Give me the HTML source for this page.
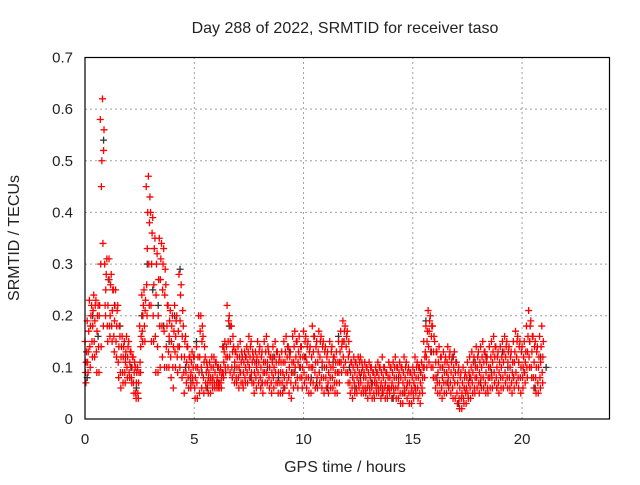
<!DOCTYPE html>
<html><head><meta charset="utf-8"><style>
body{margin:0;background:#fff;}
svg text{font-family:"Liberation Sans",sans-serif;font-size:15px;fill:#222;}
svg text.t{font-size:16px;}
</style></head><body>
<svg id="chart" width="640" height="480" xmlns="http://www.w3.org/2000/svg">
<rect width="640" height="480" fill="#fff"/>
<g id="grid"></g>
<g id="black"></g>
<g id="red"></g>
<rect x="85" y="57.5" width="524.5" height="361.5" fill="none" stroke="#000" stroke-width="1.2"/>
<g id="ticks"></g>
<text class="t" x="345" y="33" text-anchor="middle">Day 288 of 2022, SRMTID for receiver taso</text>
<text class="t" x="345" y="472" text-anchor="middle">GPS time / hours</text>
<text class="t" x="19" y="238" text-anchor="middle" transform="rotate(-90 19 238)">SRMTID / TECUs</text>
</svg>
<script>
const xTicks=[0,5,10,15,20];
const yTicks=[0,0.1,0.2,0.3,0.4,0.5,0.6,0.7];
const yTickLabels=["0","0.1","0.2","0.3","0.4","0.5","0.6","0.7"];
const redStep=0.1;
const redHi=[.15,.19,.23,.22,.24,.23,.22,.58,.62,.30,
.31,.31,.28,.25,.25,.22,.16,.16,.15,.16,
.15,.13,.12,.10,.10,.18,.24,.25,.45,.47,
.40,.39,.35,.32,.35,.34,.33,.26,.22,.21,
.20,.22,.20,.28,.26,.18,.16,.14,.12,.13,
.12,.14,.20,.20,.16,.12,.10,.11,.12,.12,
.11,.10,.10,.14,.15,.22,.20,.18,.14,.13,
.14,.15,.12,.13,.14,.16,.15,.12,.13,.15,
.14,.13,.15,.16,.13,.12,.14,.15,.13,.12,
.13,.15,.16,.14,.13,.16,.17,.15,.16,.14,
.17,.16,.15,.14,.18,.16,.15,.17,.16,.15,
.14,.13,.15,.14,.12,.13,.15,.17,.19,.18,
.17,.13,.11,.12,.11,.12,.12,.10,.11,.10,
.11,.10,.09,.10,.11,.10,.12,.10,.09,.11,
.10,.11,.12,.10,.11,.10,.12,.11,.10,.09,
.10,.12,.11,.10,.11,.15,.18,.21,.20,.18,
.15,.13,.14,.12,.13,.12,.14,.13,.12,.13,
.11,.10,.09,.10,.09,.11,.12,.13,.12,.14,
.13,.14,.15,.13,.12,.14,.15,.16,.14,.13,
.14,.15,.16,.15,.14,.13,.15,.17,.16,.15,
.14,.15,.18,.21,.19,.16,.15,.14,.16,.18];
const redQ1=[.13,.17,.20,.21,.22,.20,.22,.50,.56,.28,
.27,.26,.25,.22,.21,.18,.14,.14,.13,.14,
.13,.12,.11,.09,.09,.16,.22,.23,.40,.43,
.36,.33,.30,.27,.31,.30,.29,.22,.19,.18,
.17,.19,.17,.24,.21,.15,.14,.12,.11,.12,
.10,.12,.17,.18,.14,.11,.09,.10,.10,.11,
.10,.09,.09,.13,.14,.19,.18,.16,.13,.12,
.12,.13,.11,.12,.13,.14,.13,.11,.12,.13,
.12,.11,.13,.14,.12,.11,.12,.13,.11,.11,
.11,.13,.14,.12,.11,.14,.15,.13,.14,.12,
.15,.14,.13,.12,.16,.14,.13,.15,.14,.13,
.12,.11,.13,.12,.11,.11,.13,.15,.17,.16,
.15,.11,.10,.11,.10,.11,.11,.09,.10,.09,
.10,.09,.08,.09,.10,.09,.10,.09,.08,.10,
.09,.10,.10,.09,.10,.09,.10,.09,.09,.08,
.09,.10,.10,.09,.10,.13,.17,.19,.18,.16,
.13,.11,.12,.10,.11,.11,.12,.11,.10,.11,
.09,.08,.07,.08,.08,.09,.10,.11,.10,.12,
.11,.12,.13,.11,.10,.12,.13,.14,.12,.11,
.12,.13,.14,.13,.12,.11,.13,.15,.14,.13,
.12,.13,.16,.18,.16,.14,.13,.12,.14,.15];
const redMid=[.11,.13,.18,.18,.19,.17,.20,.45,.52,.25,
.22,.20,.21,.19,.18,.14,.12,.12,.11,.12,
.11,.10,.09,.07,.07,.14,.20,.21,.33,.38,
.30,.26,.24,.20,.27,.25,.24,.18,.16,.15,
.14,.16,.14,.19,.16,.12,.11,.10,.09,.10,
.08,.10,.12,.15,.11,.09,.08,.08,.08,.09,
.08,.07,.08,.11,.12,.15,.15,.13,.11,.10,
.10,.11,.09,.10,.11,.12,.11,.09,.10,.11,
.10,.09,.11,.11,.10,.09,.10,.11,.09,.09,
.09,.11,.12,.10,.09,.11,.12,.11,.12,.10,
.12,.11,.10,.10,.13,.11,.11,.12,.11,.10,
.10,.09,.10,.10,.09,.09,.11,.14,.15,.14,
.12,.09,.08,.09,.08,.09,.09,.08,.08,.07,
.08,.07,.07,.07,.08,.07,.08,.07,.06,.08,
.07,.08,.08,.07,.08,.07,.08,.07,.07,.06,
.07,.08,.08,.07,.08,.12,.15,.17,.16,.13,
.11,.09,.10,.08,.09,.09,.10,.09,.08,.09,
.07,.06,.05,.06,.06,.07,.08,.09,.08,.10,
.09,.10,.11,.09,.08,.10,.11,.12,.10,.09,
.10,.11,.12,.11,.10,.09,.11,.12,.11,.10,
.10,.11,.13,.15,.13,.11,.10,.10,.11,.12];
const redQ3=[.09,.11,.14,.15,.15,.13,.14,.30,.34,.22,
.18,.18,.18,.16,.15,.11,.09,.09,.09,.10,
.09,.08,.07,.05,.05,.11,.17,.18,.26,.30,
.22,.20,.16,.14,.18,.18,.17,.14,.13,.12,
.10,.13,.12,.14,.12,.09,.09,.08,.08,.08,
.06,.07,.09,.10,.08,.07,.07,.07,.07,.07,
.07,.06,.07,.09,.10,.12,.12,.10,.09,.08,
.08,.09,.07,.08,.09,.10,.09,.07,.08,.09,
.08,.07,.09,.09,.08,.07,.08,.09,.07,.07,
.07,.08,.09,.08,.07,.09,.10,.08,.10,.08,
.09,.08,.08,.07,.10,.09,.08,.09,.08,.08,
.08,.07,.08,.08,.07,.07,.09,.11,.12,.11,
.09,.07,.06,.07,.06,.07,.07,.06,.06,.06,
.06,.06,.05,.06,.06,.06,.06,.06,.05,.06,
.06,.06,.06,.06,.05,.05,.06,.06,.05,.05,
.05,.06,.06,.05,.06,.10,.12,.14,.13,.10,
.08,.07,.07,.06,.07,.07,.08,.07,.06,.07,
.05,.04,.04,.04,.05,.05,.06,.07,.06,.08,
.07,.08,.08,.07,.06,.08,.08,.09,.08,.07,
.08,.08,.09,.08,.08,.07,.08,.09,.08,.08,
.08,.09,.10,.12,.10,.08,.08,.07,.08,.09];
const redLo=[.07,.09,.10,.12,.12,.09,.09,.14,.18,.20,
.15,.16,.15,.13,.12,.08,.06,.07,.07,.08,
.08,.07,.05,.04,.04,.09,.15,.15,.20,.22,
.15,.15,.09,.09,.10,.12,.10,.10,.10,.08,
.06,.10,.09,.10,.08,.05,.07,.06,.06,.07,
.04,.04,.05,.06,.05,.06,.05,.05,.06,.06,
.06,.06,.06,.08,.09,.10,.09,.08,.07,.07,
.06,.07,.06,.07,.07,.08,.07,.05,.06,.07,
.06,.05,.07,.07,.06,.05,.06,.07,.05,.05,
.05,.06,.07,.05,.04,.06,.07,.06,.08,.06,
.07,.06,.05,.05,.07,.06,.06,.07,.06,.05,
.06,.05,.06,.06,.05,.05,.07,.09,.10,.09,
.07,.05,.04,.05,.05,.06,.05,.05,.05,.04,
.05,.04,.04,.05,.05,.04,.05,.04,.04,.05,
.04,.05,.04,.04,.03,.03,.05,.04,.03,.03,
.04,.05,.04,.03,.05,.08,.10,.11,.10,.08,
.06,.05,.05,.04,.05,.05,.06,.05,.04,.04,
.03,.02,.02,.03,.03,.04,.04,.05,.05,.06,
.05,.06,.06,.05,.05,.06,.06,.07,.06,.05,
.06,.06,.07,.06,.06,.05,.06,.07,.06,.05,
.06,.07,.08,.10,.08,.06,.05,.05,.06,.07];
const blackStep=0.25;
const blackVals=[.08,.20,.16,.54,.27,.22,.18,.12,
.10,.06,.20,.30,.25,.22,.18,.15,
.20,.29,.10,.07,.15,.09,.06,.08,
.07,.14,.18,.10,.09,.12,.08,.11,
.07,.10,.12,.08,.06,.13,.09,.10,
.12,.08,.07,.10,.06,.11,.16,.15,
.10,.06,.08,.05,.07,.09,.05,.06,
.04,.08,.05,.07,.06,.09,.19,.13,
.08,.10,.07,.12,.03,.06,.08,.11,
.07,.12,.09,.06,.13,.10,.08,.11,
.09,.15,.06,.12,.10];

const NS="http://www.w3.org/2000/svg";
const X0=85,X1=609.5,Y0=419,Y1=57.5;
function xs(h){return X0+(h/24)*(X1-X0);}
function ys(v){return Y0-(v/0.7)*(Y0-Y1);}
function mk(tag,attrs,parent){const e=document.createElementNS(NS,tag);for(const k in attrs)e.setAttribute(k,attrs[k]);parent.appendChild(e);return e;}
const grid=document.getElementById('grid'),ticks=document.getElementById('ticks');
xTicks.forEach((t,i)=>{
  const x=xs(t);
  if(i>0){const g=mk('line',{x1:x,x2:x,y1:Y0,y2:Y1,stroke:'#a0a0a0','stroke-dasharray':'2,3'},grid);
  
  }
  const tl=mk('text',{x:x,y:444,'text-anchor':'middle'},ticks);tl.textContent=String(t);
  
  
});
yTicks.forEach((t,i)=>{
  const y=ys(t);
  if(i>0&&i<yTicks.length-1){const g=mk('line',{x1:X0,x2:X1,y1:y,y2:y,stroke:'#a0a0a0','stroke-dasharray':'2,3'},grid);
  
  }
  const tl=mk('text',{x:73,y:y+5,'text-anchor':'end'},ticks);tl.textContent=yTickLabels[i];
  
  
});
function plus(g,h,v,color){
  const x=xs(h),y=ys(v);
  const p=mk('path',{d:`M${x-3.5},${y}H${x+3.5}M${x},${y-3.5}V${y+3.5}`,stroke:color,'stroke-width':1.3,fill:'none'},g);
  
  
}
const bg=document.getElementById('black'),rg=document.getElementById('red');
blackVals.forEach((v,i)=>plus(bg,i*blackStep+0.1,v,'#333'));
redHi.forEach((v,i)=>plus(rg,i*redStep,v,'#f00'));
redQ1.forEach((v,i)=>plus(rg,i*redStep+0.07,v,'#f00'));
redMid.forEach((v,i)=>plus(rg,i*redStep+0.05,v,'#f00'));
redQ3.forEach((v,i)=>plus(rg,i*redStep+0.02,v,'#f00'));
redLo.forEach((v,i)=>plus(rg,i*redStep+0.04,v,'#f00'));
</script>
</body></html>
